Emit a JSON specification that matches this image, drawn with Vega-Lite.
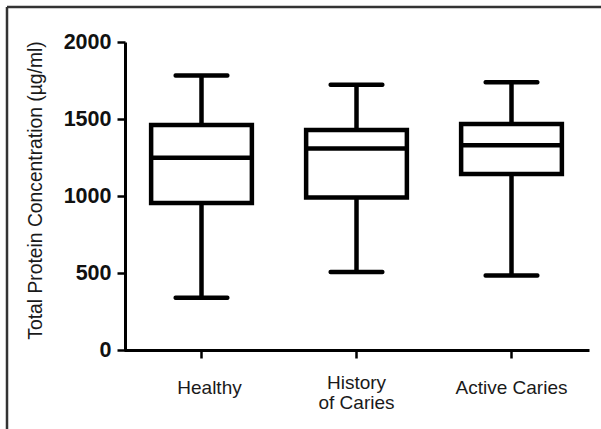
{
  "$schema": "https://vega.github.io/schema/vega-lite/v6.json",
  "width": 594,
  "height": 422,
  "autosize": {"type": "none"},
  "padding": {"left": 7, "top": 7, "right": 0, "bottom": 0},
  "background": "white",
  "config": {
    "view": {"stroke": null, "fill": "white"},
    "font": "Liberation Sans"
  },
  "resolve": {"scale": {"x": "independent", "y": "independent"}},
  "layer": [
    {
      "data": {
        "values": [
          {"group": "Healthy", "min": 340, "q1": 954, "median": 1249, "q3": 1461, "max": 1782},
          {"group": "History of Caries", "min": 507, "q1": 991, "median": 1309, "q3": 1429, "max": 1722},
          {"group": "Active Caries", "min": 483, "q1": 1143, "median": 1329, "q3": 1468, "max": 1739}
        ]
      },
      "encoding": {
        "x": {
          "field": "group",
          "type": "nominal",
          "sort": null,
          "scale": {"range": [117, 582], "paddingInner": 0, "paddingOuter": 0},
          "axis": {
            "title": null,
            "orient": "bottom",
            "offset": -79,
            "labelAngle": 0,
            "labelFont": "Liberation Sans",
            "labelFontSize": 19,
            "labelColor": "#1a1a1a",
            "labelBaseline": "middle",
            "labelPadding": {"condition": {"test": "datum.value == 'History of Caries'", "value": 24}, "value": 29},
            "labelOffset": {"condition": {"test": "datum.value == 'Healthy'", "value": 8}, "value": 0},
            "labelLineHeight": 20,
            "labelExpr": "datum.value == 'History of Caries' ? ['History', 'of Caries'] : datum.value",
            "domainColor": "black",
            "domainWidth": 3,
            "tickColor": "black",
            "tickWidth": 2.5,
            "tickSize": 8,
            "grid": false
          }
        }
      },
      "layer": [
        {
          "mark": {"type": "rule", "color": "black", "strokeWidth": 4.5},
          "encoding": {
            "y": {
              "field": "min",
              "type": "quantitative",
              "scale": {"domain": [0, 2000], "range": [343, 35], "nice": false, "zero": false},
              "axis": {
                "orient": "left",
                "offset": -118,
                "values": [0, 500, 1000, 1500, 2000],
                "format": "d",
                "grid": false,
                "domainColor": "black",
                "domainWidth": 3,
                "tickColor": "black",
                "tickWidth": 2.5,
                "tickSize": 8,
                "labelFont": "Liberation Sans",
                "labelFontSize": 21.5,
                "labelFontWeight": "bold",
                "labelColor": "#111111",
                "labelPadding": 6,
                "title": "Total Protein Concentration (µg/ml)",
                "titleFont": "Liberation Sans",
                "titleFontSize": 19.3,
                "titleFontWeight": "normal",
                "titleColor": "#1a1a1a",
                "titleAngle": -90,
                "titleAlign": "center",
                "titleBaseline": "middle",
                "titleX": -90,
                "titleY": 183
              }
            },
            "y2": {"field": "max"}
          }
        },
        {
          "mark": {"type": "bar", "fill": "white", "stroke": "black", "strokeWidth": 4.5, "width": {"band": 0.65}},
          "encoding": {
            "y": {"field": "q1", "type": "quantitative"},
            "y2": {"field": "q3"}
          }
        },
        {
          "mark": {"type": "tick", "color": "black", "thickness": 4.5, "size": 101, "opacity": 1},
          "encoding": {"y": {"field": "median", "type": "quantitative"}}
        },
        {
          "mark": {"type": "tick", "color": "black", "thickness": 4.5, "size": 56, "opacity": 1, "cornerRadius": 2},
          "encoding": {"y": {"field": "max", "type": "quantitative"}}
        },
        {
          "mark": {"type": "tick", "color": "black", "thickness": 4.5, "size": 56, "opacity": 1, "cornerRadius": 2},
          "encoding": {"y": {"field": "min", "type": "quantitative"}}
        }
      ]
    },
    {
      "data": {"values": [{"fx": 0, "fy": 1}]},
      "layer": [
        {
          "mark": {"type": "rule", "color": "#333333", "strokeWidth": 2.5},
          "encoding": {
            "x": {"field": "fx", "type": "quantitative", "scale": {"domain": [0, 1], "nice": false, "zero": false}, "axis": null}
          }
        },
        {
          "mark": {"type": "rule", "color": "#333333", "strokeWidth": 2.5},
          "encoding": {
            "y": {"field": "fy", "type": "quantitative", "scale": {"domain": [0, 1], "nice": false, "zero": false}, "axis": null}
          }
        }
      ]
    }
  ]
}
